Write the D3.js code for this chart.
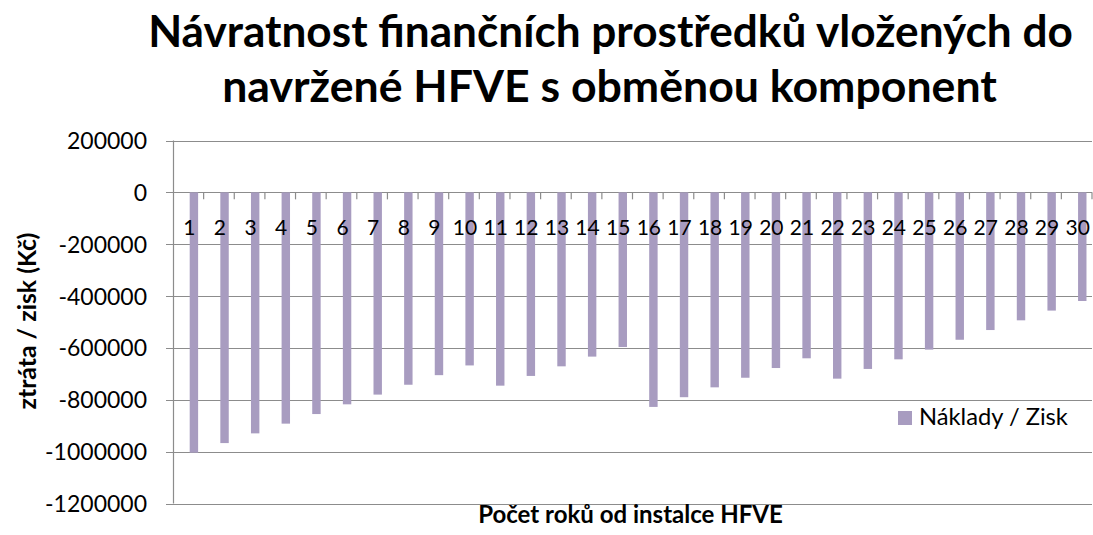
<!DOCTYPE html>
<html>
<head>
<meta charset="utf-8">
<script src="https://cdn.jsdelivr.net/npm/d3@7"></script>
<style>
  body { margin: 0; background: #fff; }
  text { font-family: Lato, "Open Sans", sans-serif; fill: #000; }
</style>
</head>
<body>
<svg id="chart" width="1093" height="535"></svg>
<script>
// data
var years = d3.range(1, 31).map(String);
var values = [
  -1004000, -967000, -929500, -892000, -855000, -817500, -780000, -742000, -705000, -667500,
  -745500, -708000, -671000, -633500, -596500, -827500, -790000, -752000, -715000, -677500,
  -640000, -718500, -681000, -644000, -606500, -568500, -531000, -493500, -456000, -419000
];
var yTicks = [200000, 0, -200000, -400000, -600000, -800000, -1000000, -1200000];
var seriesName = "Náklady / Zisk";
var titleLines = ["Návratnost finančních prostředků vložených do", "navržené HFVE s obměnou komponent"];
var xTitle = "Počet roků od instalce HFVE";
var yTitle = "ztráta / zisk (Kč)";

var plotL = 173, plotR = 1092, plotT = 140.5, plotB = 503.5;
var barColor = "#a89cc0";
var gridColor = "#8c8c8c";

var svg = d3.select("#chart");

// scale font so a text hits the wanted width
function fitWidth(t, width) {
  var w = t.node().getComputedTextLength();
  var fs = parseFloat(t.attr("font-size"));
  t.attr("font-size", fs * width / w);
}

var x = d3.scaleBand().domain(years).range([plotL, plotR]).padding(0);
var y = d3.scaleLinear().domain([-1200000, 200000]).range([plotB, plotT]);

// gridlines
svg.append("g").selectAll("line")
  .data(yTicks)
  .enter()
  .append("line")
  .attr("x1", plotL - 7).attr("x2", plotR)
  .attr("y1", function(d) { return Math.round(y(d)) + 0.5; })
  .attr("y2", function(d) { return Math.round(y(d)) + 0.5; })
  .attr("stroke", gridColor)
  .attr("stroke-width", 1.2);

// bars
var bw = x.bandwidth();
svg.append("g").selectAll("rect")
  .data(values)
  .enter()
  .append("rect")
  .attr("x", function(d, i) { return x(years[i]) + bw * 0.545; })
  .attr("width", bw * 0.275)
  .attr("y", y(0))
  .attr("height", function(d) { return y(d) - y(0); })
  .attr("fill", barColor);

// y axis line
svg.append("line")
  .attr("x1", plotL + 0.5).attr("x2", plotL + 0.5)
  .attr("y1", y(200000)).attr("y2", y(-1200000))
  .attr("stroke", gridColor).attr("stroke-width", 1.2);

// y tick labels
svg.append("g").selectAll("text")
  .data(yTicks)
  .enter()
  .append("text")
  .attr("x", 147)
  .attr("y", function(d) { return y(d) + 8.5; })
  .attr("text-anchor", "end")
  .attr("font-size", 23)
  .text(function(d) { return d; });

// x axis ticks at zero line
svg.append("g").selectAll("line")
  .data(years.slice(1).concat(["end"]))
  .enter()
  .append("line")
  .attr("x1", function(d) { return d == "end" ? plotR : x(d); })
  .attr("x2", function(d) { return d == "end" ? plotR : x(d); })
  .attr("y1", y(0)).attr("y2", y(0) + 7)
  .attr("stroke", gridColor).attr("stroke-width", 1.2);

// category labels
svg.append("g").selectAll("text")
  .data(years)
  .enter()
  .append("text")
  .attr("x", function(d) { return x(d) + bw / 2 + 1; })
  .attr("y", 235)
  .attr("text-anchor", "middle")
  .attr("font-size", 21)
  .text(function(d) { return d; });

// title
titleLines.forEach(function(line, i) {
  var widths = [925, 775];
  var t = svg.append("text")
    .attr("x", [610.5, 609.5][i])
    .attr("y", [46.5, 101.5][i])
    .attr("text-anchor", "middle")
    .attr("font-weight", "bold")
    .attr("font-size", 38)
    .text(line);
  fitWidth(t, widths[i]);
});

// axis titles
var xt = svg.append("text")
  .attr("x", 630.5).attr("y", 523)
  .attr("text-anchor", "middle")
  .attr("font-weight", "bold")
  .attr("font-size", 19)
  .text(xTitle);
fitWidth(xt, 305);

var yt = svg.append("text")
  .attr("transform", "translate(36,321) rotate(-90)")
  .attr("text-anchor", "middle")
  .attr("font-weight", "bold")
  .attr("font-size", 19)
  .text(yTitle);
fitWidth(yt, 177);

// legend
svg.append("rect")
  .attr("x", 898).attr("y", 411)
  .attr("width", 14).attr("height", 14)
  .attr("fill", barColor);
var lt = svg.append("text")
  .attr("x", 919).attr("y", 425)
  .attr("font-size", 21)
  .text(seriesName);
fitWidth(lt, 149);
</script>
</body>
</html>
